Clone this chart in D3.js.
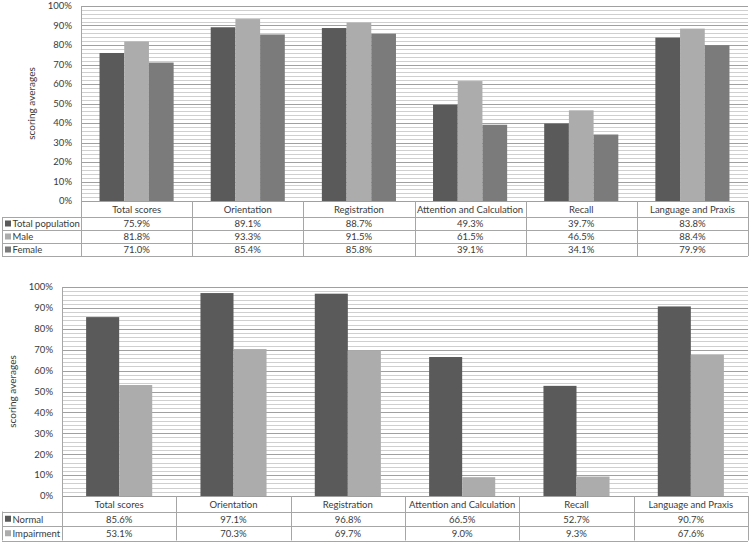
<!DOCTYPE html>
<html><head><meta charset="utf-8">
<script src="https://cdn.jsdelivr.net/npm/d3@7/dist/d3.min.js"></script>
<style>
html,body{margin:0;padding:0;background:#fff;}
svg{display:block;font-family:Lato,"Open Sans",sans-serif;}
</style></head>
<body>
<svg id="chart" width="750" height="544"></svg>
<script>
const categories = ["Total scores","Orientation","Registration","Attention and Calculation","Recall","Language and Praxis"];
const yTickValues = [0,10,20,30,40,50,60,70,80,90,100];
const yTitle = "scoring averages";

const seriesTop = ["Total population","Male","Female"];
const totalPopulation = [75.9, 89.1, 88.7, 49.3, 39.7, 83.8];
const male = [81.8, 93.3, 91.5, 61.5, 46.5, 88.4];
const female = [71.0, 85.4, 85.8, 39.1, 34.1, 79.9];
const colorsTop = ["#5a5a5a","#acacac","#7b7b7b"];

const seriesBottom = ["Normal","Impairment"];
const normal = [85.6, 97.1, 96.8, 66.5, 52.7, 90.7];
const impairment = [53.1, 70.3, 69.7, 9.0, 9.3, 67.6];
const colorsBottom = ["#5a5a5a","#acacac"];

const svg = d3.select("#chart");
const fmt = v => v.toFixed(1) + "%";
const lineColor = "#a6a6a6";
const textColor = "#3a3a3a";

function drawChart(cfg){
  const g = svg.append("g");
  const x = d3.scaleBand().domain(categories).range([cfg.left, cfg.right]).paddingInner(0).paddingOuter(0);
  const y = d3.scaleLinear().domain([0,100]).range([cfg.bottom, cfg.top]);
  const x1 = d3.scaleBand().domain(cfg.series).range([0, x.bandwidth()]).paddingInner(0).paddingOuter(cfg.outerPad);

  // minor gridlines
  g.append("g").selectAll("line").data(d3.range(0,101,2).filter(v => v % 10 !== 0)).join("line")
    .attr("x1", cfg.left).attr("x2", cfg.right)
    .attr("y1", d => Math.round(y(d))+0.5).attr("y2", d => Math.round(y(d))+0.5)
    .attr("stroke", "#cfcfcf").attr("stroke-width", 1);
  // major gridlines
  g.append("g").selectAll("line").data(yTickValues).join("line")
    .attr("x1", cfg.left).attr("x2", cfg.right)
    .attr("y1", d => Math.round(y(d))+0.5).attr("y2", d => Math.round(y(d))+0.5)
    .attr("stroke", "#a0a0a0").attr("stroke-width", 1);

  // bars
  cfg.series.forEach((s, si) => {
    g.append("g").selectAll("rect").data(cfg.values[si]).join("rect")
      .attr("x", (d,i) => x(categories[i]) + x1(s))
      .attr("width", x1.bandwidth())
      .attr("y", d => y(d))
      .attr("height", d => y(0) - y(d))
      .attr("fill", cfg.colors[si]);
  });

  // y axis tick labels
  g.append("g").selectAll("text").data(yTickValues).join("text")
    .attr("x", cfg.left - 9).attr("y", d => y(d)).attr("dy", "0.35em")
    .attr("text-anchor", "end").attr("font-size", 9.5).attr("fill", textColor)
    .text(d => d + "%");

  // y title
  g.append("text")
    .attr("transform", `translate(${cfg.left - 46},${(cfg.top + cfg.bottom)/2}) rotate(-90)`)
    .attr("text-anchor", "middle").attr("font-size", 10).attr("fill", textColor)
    .text(yTitle);

  // table
  const tableBottom = cfg.bottom + cfg.headerH + cfg.rowH * cfg.series.length;
  const t = g.append("g");
  t.append("line").attr("x1", cfg.left+0.5).attr("x2", cfg.left+0.5)
    .attr("y1", cfg.top).attr("y2", tableBottom).attr("stroke", lineColor);
  t.selectAll("line.col").data(categories).join("line").attr("class","col")
    .attr("x1", d => Math.round(x(d) + x.bandwidth())+0.5).attr("x2", d => Math.round(x(d) + x.bandwidth())+0.5)
    .attr("y1", cfg.bottom).attr("y2", tableBottom).attr("stroke", lineColor);
  const rowYs = cfg.series.map((s,i) => cfg.bottom + cfg.headerH + cfg.rowH * i).concat([tableBottom]);
  t.selectAll("line.row").data(rowYs).join("line").attr("class","row")
    .attr("x1", cfg.legendLeft).attr("x2", cfg.right)
    .attr("y1", d => Math.round(d)+0.5).attr("y2", d => Math.round(d)+0.5).attr("stroke", lineColor);
  t.append("line").attr("x1", cfg.legendLeft+0.5).attr("x2", cfg.legendLeft+0.5)
    .attr("y1", rowYs[0]).attr("y2", tableBottom).attr("stroke", lineColor);
  t.selectAll("text.hdr").data(categories).join("text").attr("class","hdr")
    .attr("x", d => x(d) + x.bandwidth()/2).attr("y", cfg.bottom + cfg.headerH/2 + 0.5).attr("dy","0.35em")
    .attr("text-anchor","middle").attr("font-size", 9.5).attr("fill",textColor).text(d => d);
  cfg.series.forEach((s, si) => {
    const cy = cfg.bottom + cfg.headerH + cfg.rowH * si + cfg.rowH/2 + 0.5;
    t.append("rect").attr("x", cfg.legendLeft + 3).attr("y", cy - 3.5).attr("width", 6).attr("height", 6)
      .attr("fill", cfg.colors[si]);
    t.append("text").attr("x", cfg.legendLeft + 10.5).attr("y", cy).attr("dy","0.35em")
      .attr("font-size", 9.5).attr("fill",textColor).text(s);
    t.selectAll(null).data(cfg.values[si]).join("text")
      .attr("x", (d,i) => x(categories[i]) + x.bandwidth()/2).attr("y", cy).attr("dy","0.35em")
      .attr("text-anchor","middle").attr("font-size", 9.5).attr("fill",textColor).text(d => fmt(d));
  });
}

drawChart({left:81, right:748, top:6, bottom:201, headerH:16, rowH:13, legendLeft:2, outerPad:0.75,
  series: seriesTop, values: [totalPopulation, male, female], colors: colorsTop});
drawChart({left:62, right:748, top:287, bottom:496, headerH:15.5, rowH:14.5, legendLeft:2, outerPad:0.73,
  series: seriesBottom, values: [normal, impairment], colors: colorsBottom});
</script>
</body></html>
